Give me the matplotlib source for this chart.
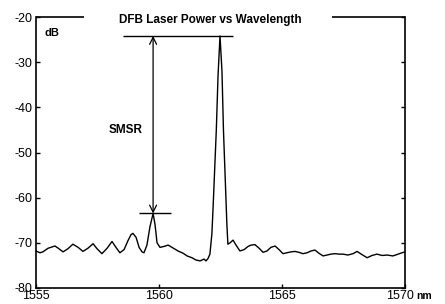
import matplotlib
matplotlib.use('Agg')
import matplotlib.pyplot as plt
from matplotlib.transforms import ScaledTranslation

plt.rcParams['font.family'] = ['Liberation Sans', 'DejaVu Sans']
plt.rcParams['axes.unicode_minus'] = False

# spectrum (nm, dB)
wavelength = [
    1555.00, 1555.16, 1555.28, 1555.49, 1555.77, 1555.93, 1556.10, 1556.30,
    1556.50, 1556.71, 1556.91, 1557.11, 1557.32, 1557.48, 1557.68, 1557.89,
    1558.09, 1558.25, 1558.41, 1558.58, 1558.74, 1558.86, 1558.94, 1559.07,
    1559.19, 1559.31, 1559.39, 1559.51, 1559.63, 1559.76, 1559.84, 1559.92,
    1560.04, 1560.20, 1560.37, 1560.53, 1560.77, 1560.98, 1561.14, 1561.34,
    1561.50, 1561.67, 1561.83, 1561.91, 1561.99, 1562.07, 1562.15, 1562.20,
    1562.33, 1562.40, 1562.48, 1562.56, 1562.62, 1562.72, 1562.76, 1562.80,
    1562.89, 1563.01, 1563.13, 1563.29, 1563.46, 1563.62, 1563.74, 1563.90,
    1564.07, 1564.23, 1564.39, 1564.55, 1564.72, 1564.88, 1565.04, 1565.20,
    1565.37, 1565.53, 1565.69, 1565.85, 1566.02, 1566.18, 1566.34, 1566.50,
    1566.67, 1566.83, 1566.99, 1567.15, 1567.32, 1567.48, 1567.68, 1567.89,
    1568.05, 1568.25, 1568.46, 1568.66, 1568.86, 1569.07, 1569.27, 1569.51,
    1569.67, 1569.88, 1570.00,
]
power = [
    -71.8, -72.2, -72.0, -71.2, -70.7, -71.3, -72.0, -71.3,
    -70.3, -71.0, -71.9, -71.2, -70.2, -71.3, -72.4, -71.2,
    -69.7, -71.0, -72.2, -71.5, -69.5, -68.2, -67.9, -68.8,
    -71.0, -72.0, -72.2, -70.5, -66.5, -63.5, -66.0, -70.0,
    -71.0, -70.8, -70.5, -71.0, -71.8, -72.3, -72.9, -73.3,
    -73.8, -74.0, -73.6, -74.0, -73.5, -72.5, -68.0, -62.0,
    -45.0, -33.0, -24.2, -32.0, -45.0, -60.0, -66.0, -70.3,
    -70.0, -69.4, -70.5, -71.8, -71.5, -70.8, -70.5, -70.4,
    -71.2, -72.1, -71.8, -71.0, -70.7, -71.5, -72.4, -72.2,
    -72.0, -71.9, -72.1, -72.4, -72.2, -71.8, -71.6, -72.3,
    -72.9, -72.7, -72.5, -72.4, -72.5, -72.5, -72.7, -72.4,
    -71.9, -72.6, -73.3, -72.8, -72.5, -72.8, -72.7, -72.9,
    -72.6, -72.2, -72.0,
]

x_ticks = [1555, 1560, 1565, 1570]
y_ticks = [-80, -70, -60, -50, -40, -30, -20]

# SMSR marker
main_peak = -24.2
side_peak = -63.5
side_wl = 1559.76
top_bar = (1558.54, 1563.0)
low_bar = (1559.19, 1560.49)


def main():
    fig = plt.figure(figsize=(4.45, 3.04), dpi=100)
    ax = fig.add_axes([36 / 445, 16 / 304, 369 / 445, 271 / 304])

    ax.plot(wavelength, power, color='black', lw=1.0)

    ax.hlines(main_peak, *top_bar, color='black', lw=1.0)
    ax.hlines(side_peak, *low_bar, color='black', lw=1.0)
    ax.annotate('', xy=(side_wl, main_peak), xytext=(side_wl, side_peak),
                arrowprops=dict(arrowstyle='<->,head_length=0.5,head_width=0.25',
                                color='black', lw=0.9, shrinkA=0, shrinkB=0))
    ax.text(1558.64, -45.1, 'SMSR', fontsize=8.5, fontweight='bold',
            ha='center', va='center')

    ax.set_xlim(1555, 1570)
    ax.set_ylim(-80, -20)
    ax.set_xticks(x_ticks)
    ax.set_yticks(y_ticks)
    ax.tick_params(direction='in', length=3, width=1, labelsize=9,
                   right=True, pad=1.5)
    ax.tick_params(axis='y', pad=2.5)
    # last x label sits a little to the left, like the original
    last = ax.get_xticklabels()[-1]
    last.set_transform(last.get_transform()
                       + ScaledTranslation(-5 / 100, 0, fig.dpi_scale_trans))

    for side in ['left', 'right', 'bottom']:
        ax.spines[side].set_linewidth(1.2)
    ax.spines['top'].set_visible(False)
    # top frame broken by the title
    ax.plot([0, 0.130], [1, 1], transform=ax.transAxes, color='black',
            lw=1.2, clip_on=False, solid_capstyle='butt')
    ax.plot([0.802, 1], [1, 1], transform=ax.transAxes, color='black',
            lw=1.2, clip_on=False, solid_capstyle='butt')

    ax.text(0.472, 0.99, 'DFB Laser Power vs Wavelength', transform=ax.transAxes,
            fontsize=8.5, fontweight='bold', ha='center', va='center')
    ax.text(0.022, 0.94, 'dB', transform=ax.transAxes, fontsize=8,
            fontweight='bold', ha='left', va='center')
    ax.text(1.03, -0.03, 'nm', transform=ax.transAxes, fontsize=7.5,
            fontweight='bold', ha='left', va='center')

    fig.savefig('out.png', dpi=100)


if __name__ == '__main__':
    main()
